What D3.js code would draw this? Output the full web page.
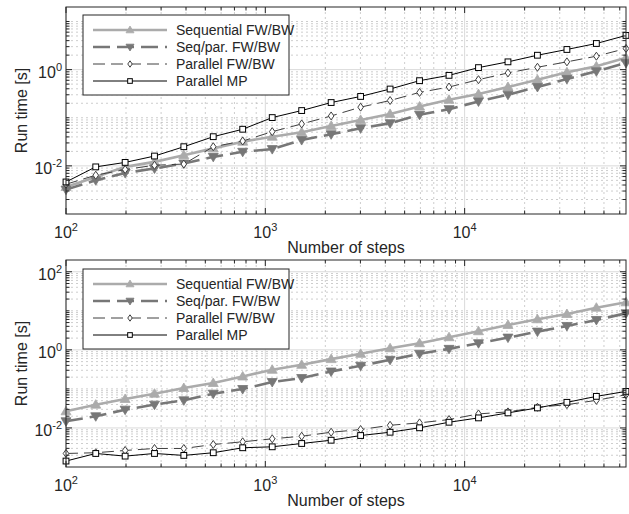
<!DOCTYPE html>
<html>
<head>
<meta charset="utf-8">
<script src="https://cdn.jsdelivr.net/npm/d3@7"></script>
<style>
  body { margin: 0; background: #fff; }
  text { font-family: "Liberation Sans", Arial, sans-serif; fill: #262626; }
</style>
</head>
<body>
<div id="chart"></div>
<script>
// number of steps (x values, same for both panels)
var steps = [100, 141, 198, 278, 390, 548, 770, 1083, 1522, 2139, 3007, 4226, 5940, 8349, 11736, 16496, 23187, 32591, 45810, 64500];

// top panel run times [s]
var seqTop    = [0.00364, 0.00589, 0.00953, 0.0121, 0.0167, 0.0231, 0.0318, 0.0404, 0.0499, 0.0676, 0.0902, 0.120, 0.171, 0.236, 0.310, 0.435, 0.618, 0.879, 1.17, 1.76];
var seqParTop = [0.00321, 0.00502, 0.00714, 0.00883, 0.0112, 0.0154, 0.0196, 0.0223, 0.0344, 0.0453, 0.0605, 0.0769, 0.115, 0.151, 0.218, 0.301, 0.435, 0.640, 0.922, 1.38];
var parFwTop  = [0.00415, 0.0064, 0.0084, 0.0103, 0.0109, 0.0250, 0.0328, 0.0514, 0.0743, 0.109, 0.166, 0.228, 0.336, 0.435, 0.618, 0.853, 1.12, 1.45, 1.90, 2.75];
var parMpTop  = [0.00463, 0.00953, 0.0118, 0.0160, 0.0250, 0.0404, 0.0577, 0.1008, 0.141, 0.207, 0.277, 0.395, 0.589, 0.760, 1.10, 1.45, 1.99, 2.62, 3.49, 5.13];

// bottom panel run times [s]
var seqBot    = [0.0267, 0.0395, 0.0552, 0.0755, 0.1054, 0.1415, 0.208, 0.309, 0.414, 0.579, 0.791, 1.10, 1.48, 2.11, 3.00, 4.34, 6.07, 8.28, 12.0, 16.5];
var seqParBot = [0.0148, 0.0199, 0.0294, 0.0395, 0.0509, 0.0755, 0.0994, 0.150, 0.190, 0.279, 0.391, 0.556, 0.791, 1.06, 1.48, 2.06, 2.93, 4.09, 5.82, 8.63];
var parFwBot  = [0.00222, 0.00232, 0.00265, 0.00298, 0.00298, 0.00377, 0.00442, 0.00527, 0.00614, 0.00777, 0.00910, 0.0117, 0.0135, 0.0164, 0.0229, 0.0258, 0.0338, 0.0395, 0.0509, 0.0711];
var parMpBot  = [0.00142, 0.00222, 0.00190, 0.00222, 0.00198, 0.00232, 0.00311, 0.00329, 0.00400, 0.00485, 0.00640, 0.00777, 0.0101, 0.0140, 0.0181, 0.0243, 0.0326, 0.0453, 0.0644, 0.0863];

var seriesNames = ["Sequential FW/BW", "Seq/par. FW/BW", "Parallel FW/BW", "Parallel MP"];

// tick values
var xMajor = [100, 1000, 10000];
var yMajorTop = [0.01, 1];
var yMajorBot = [0.01, 1, 100];

var svgWidth = 629;
var svgHeight = 514;

var svg = d3.select("#chart")
  .append("svg")
  .attr("width", svgWidth)
  .attr("height", svgHeight);

svg.append("rect")
  .attr("width", svgWidth)
  .attr("height", svgHeight)
  .attr("fill", "#fff");

// line styles for the four series
var styles = [
  { color: "#ababab", width: 2.6, dash: null, marker: "up" },
  { color: "#777777", width: 2.6, dash: "17,7", marker: "down" },
  { color: "#404040", width: 1, dash: "12,6", marker: "diamond" },
  { color: "#000000", width: 1, dash: null, marker: "square" }
];

// minor tick values between two limits
function minorTicks(lo, hi) {
  var out = [];
  for (var e = Math.floor(Math.log10(lo)); e <= Math.ceil(Math.log10(hi)); e++) {
    for (var k = 1; k <= 9; k++) {
      var v = k * Math.pow(10, e);
      if (v > lo * 1.0001 && v < hi * 0.9999) out.push(v);
    }
  }
  return out;
}

function drawMarker(g, type, x, y, st, s) {
  s = s || 1;
  if (type === "up") {
    g.append("path")
      .attr("d", `M${x},${y - 5 * s} L${x + 5 * s},${y + 3.5 * s} L${x - 5 * s},${y + 3.5 * s} Z`)
      .attr("fill", st.color).attr("stroke", st.color).attr("stroke-width", 0.8);
  } else if (type === "down") {
    g.append("path")
      .attr("d", `M${x},${y + 5 * s} L${x + 5 * s},${y - 3.5 * s} L${x - 5 * s},${y - 3.5 * s} Z`)
      .attr("fill", st.color).attr("stroke", st.color).attr("stroke-width", 0.8);
  } else if (type === "diamond") {
    g.append("path")
      .attr("d", `M${x},${y - 4 * s} L${x + 2.8 * s},${y} L${x},${y + 4 * s} L${x - 2.8 * s},${y} Z`)
      .attr("fill", "#fff").attr("stroke", st.color).attr("stroke-width", 1);
  } else {
    g.append("rect")
      .attr("x", x - 2.9 * s).attr("y", y - 2.9 * s)
      .attr("width", 5.8 * s).attr("height", 5.8 * s)
      .attr("fill", "#fff").attr("stroke", st.color).attr("stroke-width", 1);
  }
}

function powerLabel(sel, v) {
  var e = Math.round(Math.log10(v));
  sel.append("tspan").text("10");
  sel.append("tspan").attr("dy", -7).attr("font-size", "11px").text(e);
}

function drawPanel(cfg) {
  var left = 66, right = 626;
  var top = cfg.top, bottom = cfg.bottom;

  var x = d3.scaleLog().domain([100, 64500]).range([left, right]);
  var y = d3.scaleLog().domain(cfg.yDomain).range([bottom, top]);

  var g = svg.append("g");

  // minor grid (dotted)
  var xMinor = minorTicks(100, 64500).filter(v => xMajor.indexOf(v) < 0);
  var yMinor = minorTicks(cfg.yDomain[0], cfg.yDomain[1]).filter(v => cfg.yMajor.indexOf(v) < 0);

  g.selectAll(null).data(xMinor).enter().append("line")
    .attr("x1", d => x(d)).attr("x2", d => x(d))
    .attr("y1", top).attr("y2", bottom)
    .attr("stroke", "#b8b8b8").attr("stroke-width", 0.7)
    .attr("stroke-dasharray", "2,3");

  g.selectAll(null).data(yMinor).enter().append("line")
    .attr("x1", left).attr("x2", right)
    .attr("y1", d => y(d)).attr("y2", d => y(d))
    .attr("stroke", "#b8b8b8").attr("stroke-width", 0.7)
    .attr("stroke-dasharray", "2,3");

  // major grid
  g.selectAll(null).data(xMajor).enter().append("line")
    .attr("x1", d => x(d)).attr("x2", d => x(d))
    .attr("y1", top).attr("y2", bottom)
    .attr("stroke", "#dadada").attr("stroke-width", 1);

  g.selectAll(null).data(cfg.yMajor).enter().append("line")
    .attr("x1", left).attr("x2", right)
    .attr("y1", d => y(d)).attr("y2", d => y(d))
    .attr("stroke", "#dadada").attr("stroke-width", 1);

  // data lines + markers
  cfg.series.forEach(function(vals, i) {
    var st = styles[i];
    var pts = steps.map((s, j) => [x(s), y(vals[j])]);
    g.append("path")
      .attr("d", d3.line()(pts))
      .attr("fill", "none")
      .attr("stroke", st.color)
      .attr("stroke-width", st.width)
      .attr("stroke-dasharray", st.dash);
    pts.forEach(p => drawMarker(g, st.marker, p[0], p[1], st));
  });

  // axes box with inward ticks on all sides
  var axG = svg.append("g");
  axG.append("rect")
    .attr("x", left).attr("y", top)
    .attr("width", right - left).attr("height", bottom - top)
    .attr("fill", "none").attr("stroke", "#262626").attr("stroke-width", 1);

  var xt = xMajor.map(v => ({ v: v, len: 6 })).concat(xMinor.map(v => ({ v: v, len: 3.5 })));
  xt.forEach(function(t) {
    axG.append("line").attr("x1", x(t.v)).attr("x2", x(t.v))
      .attr("y1", bottom).attr("y2", bottom - t.len).attr("stroke", "#262626");
    axG.append("line").attr("x1", x(t.v)).attr("x2", x(t.v))
      .attr("y1", top).attr("y2", top + t.len).attr("stroke", "#262626");
  });
  var yt = cfg.yMajor.map(v => ({ v: v, len: 6 })).concat(yMinor.map(v => ({ v: v, len: 3.5 })));
  yt.forEach(function(t) {
    axG.append("line").attr("y1", y(t.v)).attr("y2", y(t.v))
      .attr("x1", left).attr("x2", left + t.len).attr("stroke", "#262626");
    axG.append("line").attr("y1", y(t.v)).attr("y2", y(t.v))
      .attr("x1", right).attr("x2", right - t.len).attr("stroke", "#262626");
  });

  // tick labels
  xMajor.forEach(function(v) {
    var t = axG.append("text")
      .attr("x", x(v)).attr("y", bottom + 24)
      .attr("text-anchor", "middle")
      .attr("font-size", "16px");
    powerLabel(t, v);
  });
  cfg.yMajor.forEach(function(v) {
    var t = axG.append("text")
      .attr("x", left - 4).attr("y", y(v) + 8)
      .attr("text-anchor", "end")
      .attr("font-size", "16px");
    powerLabel(t, v);
  });

  // axis labels
  axG.append("text")
    .attr("x", (left + right) / 2).attr("y", bottom + 39)
    .attr("text-anchor", "middle")
    .attr("font-size", "16px")
    .text("Number of steps");

  axG.append("text")
    .attr("transform", `translate(27, ${(top + bottom) / 2}) rotate(-90)`)
    .attr("text-anchor", "middle")
    .attr("font-size", "16px")
    .text("Run time [s]");

  // legend
  var lg = svg.append("g");
  var lx = 83, ly = cfg.legendTop;
  lg.append("rect")
    .attr("x", lx).attr("y", ly)
    .attr("width", 206).attr("height", 80)
    .attr("fill", "#fff").attr("stroke", "#262626").attr("stroke-width", 1);

  seriesNames.forEach(function(name, i) {
    var st = styles[i];
    var yy = ly + 15 + i * 17;
    lg.append("line")
      .attr("x1", lx + 10).attr("x2", lx + 84)
      .attr("y1", yy).attr("y2", yy)
      .attr("stroke", st.color)
      .attr("stroke-width", st.width)
      .attr("stroke-dasharray", st.dash);
    drawMarker(lg, st.marker, lx + 47, yy, st, 0.8);
    lg.append("text")
      .attr("x", lx + 93).attr("y", yy + 5)
      .attr("font-size", "14px")
      .text(name);
  });
}

drawPanel({
  top: 7, bottom: 214,
  yDomain: [0.001, 20],
  yMajor: yMajorTop,
  legendTop: 15,
  series: [seqTop, seqParTop, parFwTop, parMpTop]
});

drawPanel({
  top: 260, bottom: 467,
  yDomain: [0.001, 200],
  yMajor: yMajorBot,
  legendTop: 269,
  series: [seqBot, seqParBot, parFwBot, parMpBot]
});
</script>
</body>
</html>
